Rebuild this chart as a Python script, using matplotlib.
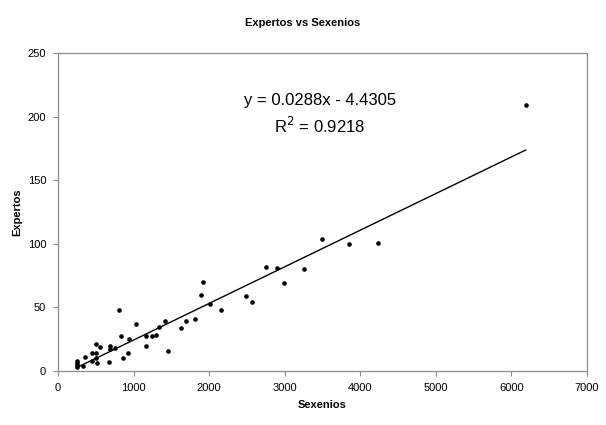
import matplotlib.pyplot as plt

plt.rcParams['font.family'] = ['Liberation Sans', 'DejaVu Sans']

# Sexenios vs Expertos
sexenios = [245, 245, 245, 245, 326, 357, 446, 454, 498, 498, 498, 520, 556,
            670, 688, 688, 754, 811, 829, 860, 926, 944, 1032, 1160, 1168,
            1248, 1300, 1340, 1415, 1459, 1627, 1689, 1808, 1892, 1914, 2015,
            2156, 2487, 2562, 2747, 2897, 2989, 3250, 3488, 3849, 4237, 6187]
expertos = [8, 6, 4.5, 3, 4, 11, 8, 14, 14, 21.5, 10, 6, 19,
            7, 20, 17, 18, 48, 27.5, 10, 14.5, 25, 37, 20, 27.5,
            27.5, 28.5, 35, 39, 15.5, 34, 39, 41, 60, 70, 53,
            48, 59, 54, 82, 81, 69, 80, 104, 100, 101, 209]

slope = 0.0288
intercept = -4.4305

fig = plt.figure(figsize=(6.06, 4.25), dpi=100)
ax = fig.add_axes([0.0957, 0.127, 0.873, 0.748])

ax.plot(sexenios, expertos, 'o', color='black', markersize=2.3)
x_line = [min(sexenios), max(sexenios)]
ax.plot(x_line, [slope * v + intercept for v in x_line], color='black', linewidth=1)

ax.set_xlim(0, 7000)
ax.set_ylim(0, 250)
ax.set_xticks(range(0, 7001, 1000))
ax.set_yticks(range(0, 251, 50))

for s in ax.spines.values():
    s.set_color('#8c8c8c')
    s.set_linewidth(0.9)
ax.tick_params(axis='both', direction='out', length=3.5, color='#8c8c8c',
               labelsize=8, pad=5)
ax.tick_params(top=False, right=False)

ax.set_xlabel('Sexenios', fontsize=8, fontweight='bold', labelpad=5)
ax.set_ylabel('Expertos', fontsize=8, fontweight='bold', labelpad=4)
fig.text(0.5, 0.945, 'Expertos vs Sexenios', ha='center', va='center',
         fontsize=8, fontweight='bold')

ax.text(3466, 213, 'y = 0.0288x - 4.4305', ha='center', va='center', fontsize=12)
ax.text(3466, 193, r'R$^2$ = 0.9218', ha='center', va='center', fontsize=12)

fig.savefig('out.png', dpi=100)
